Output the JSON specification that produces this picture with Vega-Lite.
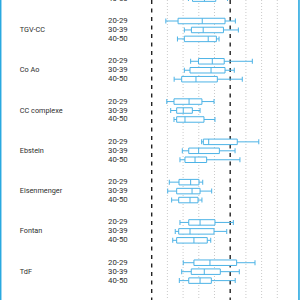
{
  "$schema": "https://vega.github.io/schema/vega-lite/v6.json",
  "width": 300,
  "height": 300,
  "autosize": {"type": "none"},
  "padding": 0,
  "background": "white",
  "config": {"view": {"stroke": null}, "axis": {"disable": true}},
  "datasets": {
    "minor": [{"v": 1}, {"v": 2}, {"v": 3}, {"v": 4}, {"v": 6}, {"v": 7}, {"v": 8}],
    "major": [{"v": 0}, {"v": 5}],
    "boxes": [
      {"row": "P 40-50", "group": "", "age": "40-50", "min": 2.34, "q1": 2.6, "median": 3.36, "q3": 4.08, "max": 4.83},
      {"row": "TGV-CC 20-29", "group": "TGV-CC", "age": "20-29", "min": 0.9, "q1": 1.68, "median": 3.22, "q3": 4.67, "max": 5.33},
      {"row": "TGV-CC 30-39", "group": "TGV-CC", "age": "30-39", "min": 2.08, "q1": 2.53, "median": 3.28, "q3": 4.57, "max": 5.52},
      {"row": "TGV-CC 40-50", "group": "TGV-CC", "age": "40-50", "min": 1.64, "q1": 2.08, "median": 3.6, "q3": 4.12, "max": 4.29},
      {"row": "Co Ao 20-29", "group": "Co Ao", "age": "20-29", "min": 2.48, "q1": 2.98, "median": 3.86, "q3": 4.62, "max": 6.41},
      {"row": "Co Ao 30-39", "group": "Co Ao", "age": "30-39", "min": 2.08, "q1": 2.44, "median": 3.78, "q3": 4.67, "max": 5.26},
      {"row": "Co Ao 40-50", "group": "Co Ao", "age": "40-50", "min": 1.43, "q1": 1.91, "median": 2.82, "q3": 4.18, "max": 5.77},
      {"row": "CC complexe 20-29", "group": "CC complexe", "age": "20-29", "min": 0.96, "q1": 1.42, "median": 2.38, "q3": 3.2, "max": 3.97},
      {"row": "CC complexe 30-39", "group": "CC complexe", "age": "30-39", "min": 1.21, "q1": 1.59, "median": 2.01, "q3": 2.59, "max": 3.08},
      {"row": "CC complexe 40-50", "group": "CC complexe", "age": "40-50", "min": 1.42, "q1": 1.59, "median": 2.12, "q3": 3.33, "max": 4.03},
      {"row": "Ebstein 20-29", "group": "Ebstein", "age": "20-29", "min": 3.18, "q1": 3.29, "median": 3.63, "q3": 5.45, "max": 6.82},
      {"row": "Ebstein 30-39", "group": "Ebstein", "age": "30-39", "min": 1.95, "q1": 2.36, "median": 2.99, "q3": 4.31, "max": 5.31},
      {"row": "Ebstein 40-50", "group": "Ebstein", "age": "40-50", "min": 1.8, "q1": 2.12, "median": 2.76, "q3": 3.5, "max": 5.62},
      {"row": "Eisenmenger 20-29", "group": "Eisenmenger", "age": "20-29", "min": 1.12, "q1": 1.74, "median": 2.48, "q3": 3.01, "max": 3.25},
      {"row": "Eisenmenger 30-39", "group": "Eisenmenger", "age": "30-39", "min": 1.02, "q1": 1.59, "median": 2.57, "q3": 3.08, "max": 3.82},
      {"row": "Eisenmenger 40-50", "group": "Eisenmenger", "age": "40-50", "min": 1.27, "q1": 1.72, "median": 2.44, "q3": 2.95, "max": 3.2},
      {"row": "Fontan 20-29", "group": "Fontan", "age": "20-29", "min": 1.8, "q1": 2.36, "median": 3.08, "q3": 4.03, "max": 5.2},
      {"row": "Fontan 30-39", "group": "Fontan", "age": "30-39", "min": 1.5, "q1": 1.72, "median": 2.44, "q3": 3.97, "max": 4.78},
      {"row": "Fontan 40-50", "group": "Fontan", "age": "40-50", "min": 1.34, "q1": 1.59, "median": 2.69, "q3": 3.54, "max": 3.76},
      {"row": "TdF 20-29", "group": "TdF", "age": "20-29", "min": 2.01, "q1": 2.69, "median": 3.71, "q3": 5.41, "max": 6.58},
      {"row": "TdF 30-39", "group": "TdF", "age": "30-39", "min": 1.91, "q1": 2.52, "median": 3.35, "q3": 4.37, "max": 5.58},
      {"row": "TdF 40-50", "group": "TdF", "age": "40-50", "min": 1.76, "q1": 2.36, "median": 3.08, "q3": 3.8, "max": 5.32}
    ],
    "groups": [
      {"group": "TGV-CC", "row": "TGV-CC 30-39"},
      {"group": "Co Ao", "row": "Co Ao 30-39"},
      {"group": "CC complexe", "row": "CC complexe 30-39"},
      {"group": "Ebstein", "row": "Ebstein 30-39"},
      {"group": "Eisenmenger", "row": "Eisenmenger 30-39"},
      {"group": "Fontan", "row": "Fontan 30-39"},
      {"group": "TdF", "row": "TdF 30-39"}
    ]
  },
  "layer": [
    {
      "data": {"name": "minor"},
      "mark": {"type": "rule", "stroke": "#c4c4c4", "strokeWidth": 0.9, "strokeDash": [1, 2]},
      "encoding": {"x": {"field": "v", "type": "quantitative", "scale": {"domain": [-9.662, 9.446], "nice": false, "zero": false}, "axis": null}}
    },
    {
      "data": {"name": "major"},
      "mark": {"type": "rule", "stroke": "#222222", "strokeWidth": 1.4, "strokeDash": [4, 4.5]},
      "encoding": {"x": {"field": "v", "type": "quantitative", "scale": {"domain": [-9.662, 9.446], "nice": false, "zero": false}, "axis": null}}
    },
    {
      "data": {"values": [{"edge": "left", "v": -9.62}, {"edge": "right", "v": 9.38}]},
      "mark": {"type": "rule", "stroke": "#2aa9e0", "strokeWidth": 1.6},
      "encoding": {"x": {"field": "v", "type": "quantitative", "scale": {"domain": [-9.662, 9.446], "nice": false, "zero": false}, "axis": null}}
    },
    {
      "data": {"name": "boxes"},
      "encoding": {
        "y": {
          "field": "row", "type": "nominal", "axis": null,
          "scale": {
            "type": "point", "padding": 0, "range": [-1.38, 303.0],
            "domain": [
              "P 40-50", "s1", "s2", "s3", "s4",
              "TGV-CC 20-29", "s5", "TGV-CC 30-39", "s6", "TGV-CC 40-50", "s7", "s8", "s9", "s10",
              "Co Ao 20-29", "s11", "Co Ao 30-39", "s12", "Co Ao 40-50", "s13", "s14", "s15", "s16",
              "CC complexe 20-29", "s17", "CC complexe 30-39", "s18", "CC complexe 40-50", "s19", "s20", "s21", "s22",
              "Ebstein 20-29", "s23", "Ebstein 30-39", "s24", "Ebstein 40-50", "s25", "s26", "s27", "s28",
              "Eisenmenger 20-29", "s29", "Eisenmenger 30-39", "s30", "Eisenmenger 40-50", "s31", "s32", "s33", "s34",
              "Fontan 20-29", "s35", "Fontan 30-39", "s36", "Fontan 40-50", "s37", "s38", "s39", "s40",
              "TdF 20-29", "s41", "TdF 30-39", "s42", "TdF 40-50", "s43", "s44", "s45", "s46",
              "N 20-29"
            ]
          }
        }
      },
      "layer": [
        {
          "mark": {"type": "rule", "stroke": "#4db3e6", "strokeWidth": 1},
          "encoding": {
            "x": {"field": "min", "type": "quantitative", "scale": {"domain": [-9.662, 9.446], "nice": false, "zero": false}, "axis": null},
            "x2": {"field": "max"}
          }
        },
        {
          "mark": {"type": "bar", "size": 5.5, "fill": "white", "stroke": "#4db3e6", "strokeWidth": 1},
          "encoding": {
            "x": {"field": "q1", "type": "quantitative", "scale": {"domain": [-9.662, 9.446], "nice": false, "zero": false}, "axis": null},
            "x2": {"field": "q3"}
          }
        },
        {
          "mark": {"type": "tick", "color": "#4db3e6", "size": 5.5, "thickness": 1, "opacity": 1},
          "encoding": {"x": {"field": "median", "type": "quantitative", "scale": {"domain": [-9.662, 9.446], "nice": false, "zero": false}, "axis": null}}
        },
        {
          "mark": {"type": "tick", "color": "#4db3e6", "size": 5, "thickness": 1, "opacity": 1},
          "encoding": {"x": {"field": "min", "type": "quantitative", "scale": {"domain": [-9.662, 9.446], "nice": false, "zero": false}, "axis": null}}
        },
        {
          "mark": {"type": "tick", "color": "#4db3e6", "size": 5, "thickness": 1, "opacity": 1},
          "encoding": {"x": {"field": "max", "type": "quantitative", "scale": {"domain": [-9.662, 9.446], "nice": false, "zero": false}, "axis": null}}
        },
        {
          "mark": {"type": "text", "align": "left", "baseline": "middle", "font": "Roboto", "fontSize": 7.8, "fill": "#2e2e2e"},
          "encoding": {
            "x": {"datum": -2.78, "type": "quantitative", "scale": {"domain": [-9.662, 9.446], "nice": false, "zero": false}, "axis": null},
            "text": {"field": "age"}
          }
        },
        {
          "data": {"name": "groups"},
          "mark": {"type": "text", "align": "left", "baseline": "middle", "font": "Roboto", "fontSize": 7.3, "fill": "#2e2e2e"},
          "encoding": {
            "x": {"datum": -8.4, "type": "quantitative", "scale": {"domain": [-9.662, 9.446], "nice": false, "zero": false}, "axis": null},
            "text": {"field": "group"}
          }
        }
      ]
    }
  ]
}
